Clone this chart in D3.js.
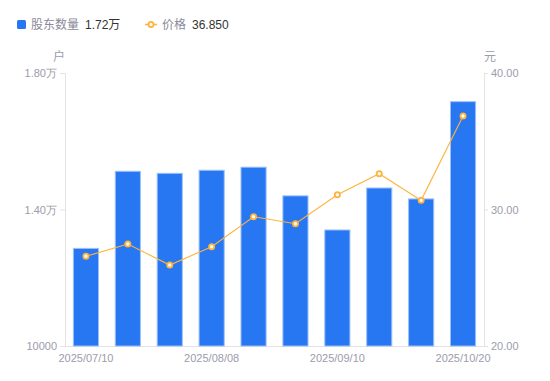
<!DOCTYPE html>
<html>
<head>
<meta charset="utf-8">
<script src="https://cdn.jsdelivr.net/npm/d3@7"></script>
<style>
  body { margin: 0; background: #fff; }
  svg { font-family: "Liberation Sans", Arial, "Noto Sans CJK SC", sans-serif; }
</style>
</head>
<body>
<svg width="550" height="381"></svg>
<script>
// data
var dates = ["2025/07/10", "2025/07/18", "2025/07/31", "2025/08/08", "2025/08/20",
             "2025/08/29", "2025/09/10", "2025/09/19", "2025/09/30", "2025/10/20"];
var holders = [12860, 15120, 15060, 15150, 15240, 14400, 13400, 14630, 14310, 17160];
var prices = [26.57, 27.47, 25.93, 27.27, 29.47, 28.96, 31.08, 32.62, 30.67, 36.85];
var leftTicks = [10000, 14000, 18000];
var rightTicks = [20, 30, 40];

var svg = d3.select("svg");

var plotLeft = 65, plotRight = 484, plotTop = 73, plotBottom = 346;
var blue = "#2777f3", orange = "#ffb33a", grey = "#9c9cab";

var x = d3.scaleBand()
    .domain(dates)
    .range([plotLeft, plotRight])
    .paddingInner(0.4)
    .paddingOuter(0.2);

var yL = d3.scaleLinear().domain([10000, 18000]).range([plotBottom, plotTop]);
var yR = d3.scaleLinear().domain([20, 40]).range([plotBottom, plotTop]);

function fmtHolders(v) {
  return v >= 10000 && v % 10000 != 0 ? (v / 10000).toFixed(2) + "万" : v;
}

// axes
var gl = svg.append("g")
    .attr("transform", "translate(" + plotLeft + ",0)")
    .call(d3.axisLeft(yL).tickValues(leftTicks).tickSize(5).tickPadding(3).tickFormat(fmtHolders));
var gr = svg.append("g")
    .attr("transform", "translate(" + plotRight + ",0)")
    .call(d3.axisRight(yR).tickValues(rightTicks).tickSize(4).tickPadding(3).tickFormat(d3.format(".2f")));
var gx = svg.append("g")
    .attr("transform", "translate(0," + plotBottom + ")")
    .call(d3.axisBottom(x).tickSize(0).tickPadding(8)
      .tickValues(dates.filter(function(d, i) { return i % 3 == 0; })));

[gl, gr, gx].forEach(function(g) {
  g.select(".domain").attr("stroke", "#e3e3e6");
  g.selectAll(".tick line").attr("stroke", "#e3e3e6");
  g.selectAll(".tick text").attr("fill", grey).attr("font-size", 11);
});
gx.select(".domain").attr("d", "M" + plotLeft + ",0.5H" + plotRight);

// unit labels
svg.append("text").attr("x", 59).attr("y", 61).attr("text-anchor", "middle")
  .attr("font-size", 12).attr("fill", grey).text("户");
svg.append("text").attr("x", 490).attr("y", 61).attr("text-anchor", "middle")
  .attr("font-size", 12).attr("fill", grey).text("元");

// bars
svg.append("g").selectAll("rect")
  .data(holders)
  .enter().append("rect")
    .attr("x", function(d, i) { return x(dates[i]); })
    .attr("y", function(d) { return yL(d); })
    .attr("width", x.bandwidth())
    .attr("height", function(d) { return yL(10000) - yL(d); })
    .attr("fill", blue)
    .attr("stroke", "#9dc0f9")
    .attr("stroke-width", 1);

// price line
var line = d3.line()
    .x(function(d, i) { return x(dates[i]) + x.bandwidth() / 2; })
    .y(function(d) { return yR(d); });

svg.append("path")
  .datum(prices)
  .attr("d", line)
  .attr("fill", "none")
  .attr("stroke", orange)
  .attr("stroke-width", 1.1);

svg.append("g").selectAll("circle")
  .data(prices)
  .enter().append("circle")
    .attr("cx", function(d, i) { return x(dates[i]) + x.bandwidth() / 2; })
    .attr("cy", function(d) { return yR(d); })
    .attr("r", 2.6)
    .attr("fill", "#fff")
    .attr("stroke", orange)
    .attr("stroke-width", 1.8);

// legend
var lg = svg.append("g").attr("font-size", 12);
lg.append("rect").attr("x", 17).attr("y", 20).attr("width", 9).attr("height", 9)
  .attr("rx", 1.5).attr("fill", blue);
lg.append("text").attr("x", 31).attr("y", 29).attr("fill", "#8a8a99").text("股东数量");
lg.append("text").attr("x", 85).attr("y", 29).attr("fill", "#333").text("1.72万");

lg.append("line").attr("x1", 145).attr("x2", 157).attr("y1", 24.5).attr("y2", 24.5)
  .attr("stroke", orange).attr("stroke-width", 1.5);
lg.append("circle").attr("cx", 151).attr("cy", 24.5).attr("r", 2.6)
  .attr("fill", "#fff").attr("stroke", orange).attr("stroke-width", 1.8);
lg.append("text").attr("x", 162).attr("y", 29).attr("fill", "#8a8a99").text("价格");
lg.append("text").attr("x", 192).attr("y", 29).attr("fill", "#333")
  .text(prices[prices.length - 1].toFixed(3));
</script>
</body>
</html>
